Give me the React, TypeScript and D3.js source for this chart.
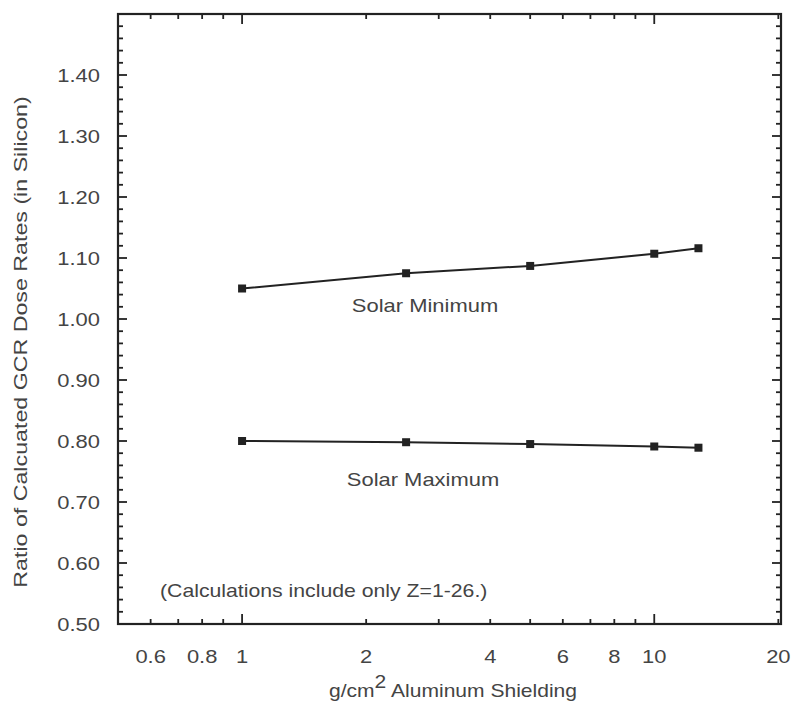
import React from "react";
import * as d3 from "d3";

const shielding = [1, 2.5, 5, 10, 12.8];
const solarMin = [1.05, 1.075, 1.087, 1.107, 1.116];
const solarMax = [0.8, 0.798, 0.795, 0.791, 0.789];
const yMajor = [0.5, 0.6, 0.7, 0.8, 0.9, 1.0, 1.1, 1.2, 1.3, 1.4];
const xLabels = [0.6, 0.8, 1, 2, 4, 6, 8, 10, 20];
const xMinor = [0.6, 0.7, 0.8, 0.9, 2, 3, 4, 5, 6, 7, 8, 9, 20];
const xMajor = [1, 10];

const font = "'Liberation Sans', Arial, Helvetica, sans-serif";
const txt = "#444";

function T(props: { x: number; y: number; sx?: number; anchor?: string; rot?: number; size?: number; children: React.ReactNode }) {
  const { x, y, sx = 1.22, anchor = "start", rot = 0, size = 18, children } = props;
  return (
    <text
      transform={`translate(${x},${y}) rotate(${rot}) scale(${sx},1)`}
      textAnchor={anchor}
      fontSize={size}
      fill={txt}
    >
      {children}
    </text>
  );
}

export default function App() {
  const W = 791, H = 706;
  const left = 118, right = 781, top = 14, bottom = 624;
  const x = d3.scaleLog().domain([0.5, 20.3]).range([left, right]);
  const y = d3.scaleLinear().domain([0.5, 1.5]).range([bottom, top]);
  const line = d3.line<[number, number]>().x(d => x(d[0])).y(d => y(d[1]));
  const yMinor = d3.range(0, 51).map(i => 0.5 + i * 0.02);
  const series = [solarMin, solarMax];
  return (
    <svg width={W} height={H} style={{ position: "absolute", left: 0, top: 0 }} fontFamily={font}>
      <rect width={W} height={H} fill="#fff" />
      {yMinor.map((v, i) => {
        const major = Math.abs(v * 10 - Math.round(v * 10)) < 1e-6;
        const len = major ? 9 : 5;
        return (
          <g key={"y" + i} stroke="#222" strokeWidth={1.8}>
            <line x1={left} x2={left + len} y1={y(v)} y2={y(v)} />
            <line x1={right} x2={right - len} y1={y(v)} y2={y(v)} />
          </g>
        );
      })}
      {yMajor.map(v => (
        <T key={"yl" + v} x={100} y={y(v) + 6.5} anchor="end">{v.toFixed(2)}</T>
      ))}
      {xMinor.map(v => (
        <g key={"xm" + v} stroke="#222" strokeWidth={1.8}>
          <line x1={x(v)} x2={x(v)} y1={bottom} y2={bottom - 5} />
          <line x1={x(v)} x2={x(v)} y1={top} y2={top + 5} />
        </g>
      ))}
      {xMajor.map(v => (
        <g key={"xM" + v} stroke="#222" strokeWidth={1.8}>
          <line x1={x(v)} x2={x(v)} y1={bottom} y2={bottom - 10} />
          <line x1={x(v)} x2={x(v)} y1={top} y2={top + 10} />
        </g>
      ))}
      {xLabels.map(v => (
        <T key={"xl" + v} x={x(v)} y={663} anchor="middle">{String(v)}</T>
      ))}
      <rect x={left} y={top} width={right - left} height={bottom - top} fill="none" stroke="#222" strokeWidth={2.2} />
      {series.map((s, k) => {
        const pts = shielding.map((sv, i) => [sv, s[i]] as [number, number]);
        return (
          <g key={"s" + k}>
            <path d={line(pts) || ""} fill="none" stroke="#222" strokeWidth={2} />
            {pts.map((p, i) => (
              <rect key={i} x={x(p[0]) - 4} y={y(p[1]) - 4} width={8} height={8} fill="#222" />
            ))}
          </g>
        );
      })}
      <T x={425} y={312} anchor="middle">Solar Minimum</T>
      <T x={423} y={486} anchor="middle">Solar Maximum</T>
      <T x={160} y={597} sx={1.18}>(Calculations include only Z=1-26.)</T>
      <T x={453} y={697} anchor="middle" sx={1.17}>
        g/cm<tspan dy={-9}>2</tspan><tspan dy={9}> Aluminum Shielding</tspan>
      </T>
      <T x={27} y={342} anchor="middle" rot={-90} sx={1.29}>
        Ratio of Calcuated GCR Dose Rates (in Silicon)
      </T>
    </svg>
  );
}
